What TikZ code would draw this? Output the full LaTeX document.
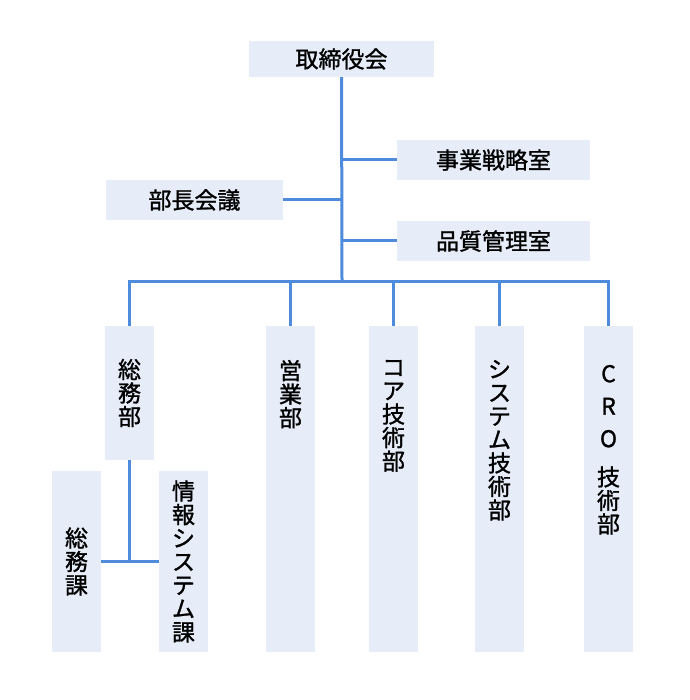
\documentclass[tikz,border=0pt]{standalone}
\usepackage{fontspec}
\usepackage{tikz}
\usetikzlibrary{positioning}
\newfontfamily\jpfont[BoldFont={Noto Sans CJK JP}, BoldFeatures={FakeBold=1.2}]{Noto Sans CJK JP}
\definecolor{boxblue}{HTML}{E6EDF8}
\definecolor{lineblue}{HTML}{4F8BDC}
\newcommand\tightlines{\lineskiplimit=-30pt\relax}

\begin{document}
\begin{tikzpicture}[x=1pt,y=-1pt,
    box/.style={fill=boxblue, inner sep=0pt, font=\jpfont\bfseries\fontsize{23}{23.5}\selectfont\tightlines},
    wbox/.style={box, minimum width=#1, minimum height=40pt},
    dept/.style={box, minimum width=49pt, minimum height=326pt},
    sect/.style={box, align=center, minimum width=49pt, minimum height=#1},
    vtext/.style={inner sep=0pt, align=center, font=\jpfont\bfseries\fontsize{23}{23.5}\selectfont\tightlines},
    link/.style={draw=lineblue, line width=3pt}]
\useasboundingbox (0,0) rectangle (689,700);

% Board and staff
\node[wbox=185pt, minimum height=36pt] (board) at (341.5,59) {取締役会};
\node[wbox=193pt] (senryaku) at (493.5,160) {事業戦略室};
\node[wbox=177pt] (bucho) at (194.5,200) {部長会議};
\node[wbox=193pt] (hinshitsu) at (493.5,241) {品質管理室};

% Departments
\node[sect=134pt] (somu) at (129.5,393) {総\\務\\部};
\node[dept] (eigyo) at (290.5,489) {};
\node[dept] (core) at (393.5,489) {};
\node[dept] (system) at (499.5,489) {};
\node[dept] (cro) at (608.5,489) {};
\node[vtext, below=34pt of eigyo.north] (eigyo-t) {営\\業\\部};
\node[vtext, below=34pt of core.north] (core-t) {コ\\ア\\技\\術\\部};
\node[vtext, below=34pt of system.north] (system-t) {シ\\ス\\テ\\ム\\技\\術\\部};
\node[vtext, below=39pt of cro.north] (cro-t) {C\\[9pt]R\\[9pt]O\\[15pt]技\\術\\部};

% Sections
\node[sect=181pt] (somuka) at (76.5,561.5) {総\\務\\課};
\node[sect=181pt] (joho) at (183.5,561.5) {情\\報\\シ\\ス\\テ\\ム\\課};

% Connectors
\coordinate (bus) at (342,281);
\draw[link] (board) -- (bus);
\draw[link] (senryaku.west) -- (senryaku.west -| bus);
\draw[link] (hinshitsu.west) -- (hinshitsu.west -| bus);
\draw[link] (bucho.east) -- (bucho.east -| bus);
\draw[link] (somu.north) |- (cro.north |- bus) -- (cro.north);
\foreach \d in {eigyo,core,system}
    \draw[link] (\d.north) -- (\d.north |- bus);
\draw[link] (somu.south) -- (somu.south |- somuka.east);
\draw[link] (somuka.east) -- (joho.west);
\end{tikzpicture}
\end{document}
